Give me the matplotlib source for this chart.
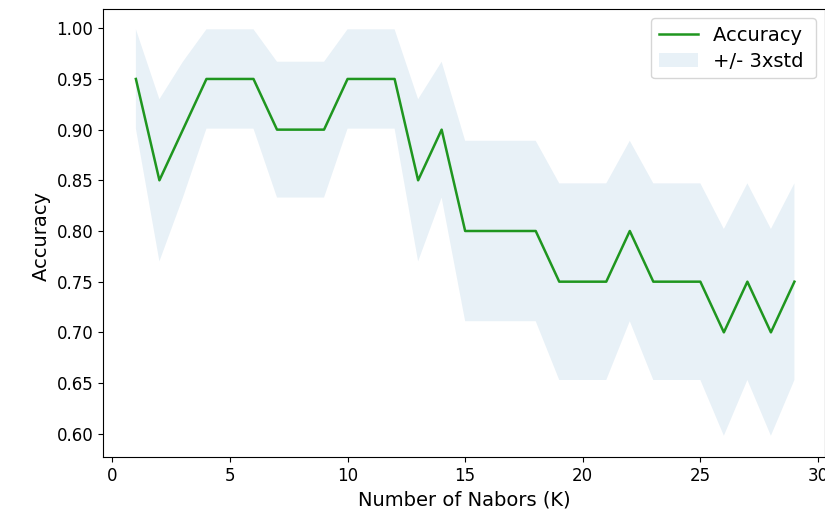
import numpy as np
import matplotlib
matplotlib.use("Agg")
import matplotlib.pyplot as plt

# number of neighbours K
ks = [1, 2, 3, 4, 5, 6, 7, 8, 9, 10, 11, 12, 13, 14, 15,
      16, 17, 18, 19, 20, 21, 22, 23, 24, 25, 26, 27, 28, 29]

# mean accuracy per K
mean_acc = [0.95, 0.85, 0.90, 0.95, 0.95, 0.95, 0.90, 0.90, 0.90, 0.95,
            0.95, 0.95, 0.85, 0.90, 0.80, 0.80, 0.80, 0.80, 0.75, 0.75,
            0.75, 0.80, 0.75, 0.75, 0.75, 0.70, 0.75, 0.70, 0.75]

# half width of the shaded band
std_acc = [0.049, 0.080, 0.067, 0.049, 0.049, 0.049, 0.067, 0.067, 0.067, 0.049,
           0.049, 0.049, 0.080, 0.067, 0.089, 0.089, 0.089, 0.089, 0.097, 0.097,
           0.097, 0.089, 0.097, 0.097, 0.097, 0.102, 0.097, 0.102, 0.097]

ks = np.array(ks)
mean_acc = np.array(mean_acc)
std_acc = np.array(std_acc)

plt.rcParams['font.size'] = 12

fig = plt.figure(figsize=(8.25, 5.21), dpi=100)
ax = fig.add_axes([0.1248, 0.1228, 0.8752, 0.8593])

ax.plot(ks, mean_acc, color='#1f961f', linewidth=1.8)
ax.fill_between(ks, mean_acc - std_acc, mean_acc + std_acc, alpha=0.10)
ax.legend(('Accuracy ', '+/- 3xstd'), loc='upper right', fontsize=14,
          labelspacing=0.35, borderaxespad=0.45)

ax.set_xlim(-0.4, 30.3)
ax.set_ylim(0.577, 1.0187)
ax.set_yticks(np.arange(0.60, 1.001, 0.05))
ax.set_xlabel('Number of Nabors (K)', fontsize=14)
ax.set_ylabel('Accuracy ', fontsize=14)

fig.savefig('out.png', dpi=100)
